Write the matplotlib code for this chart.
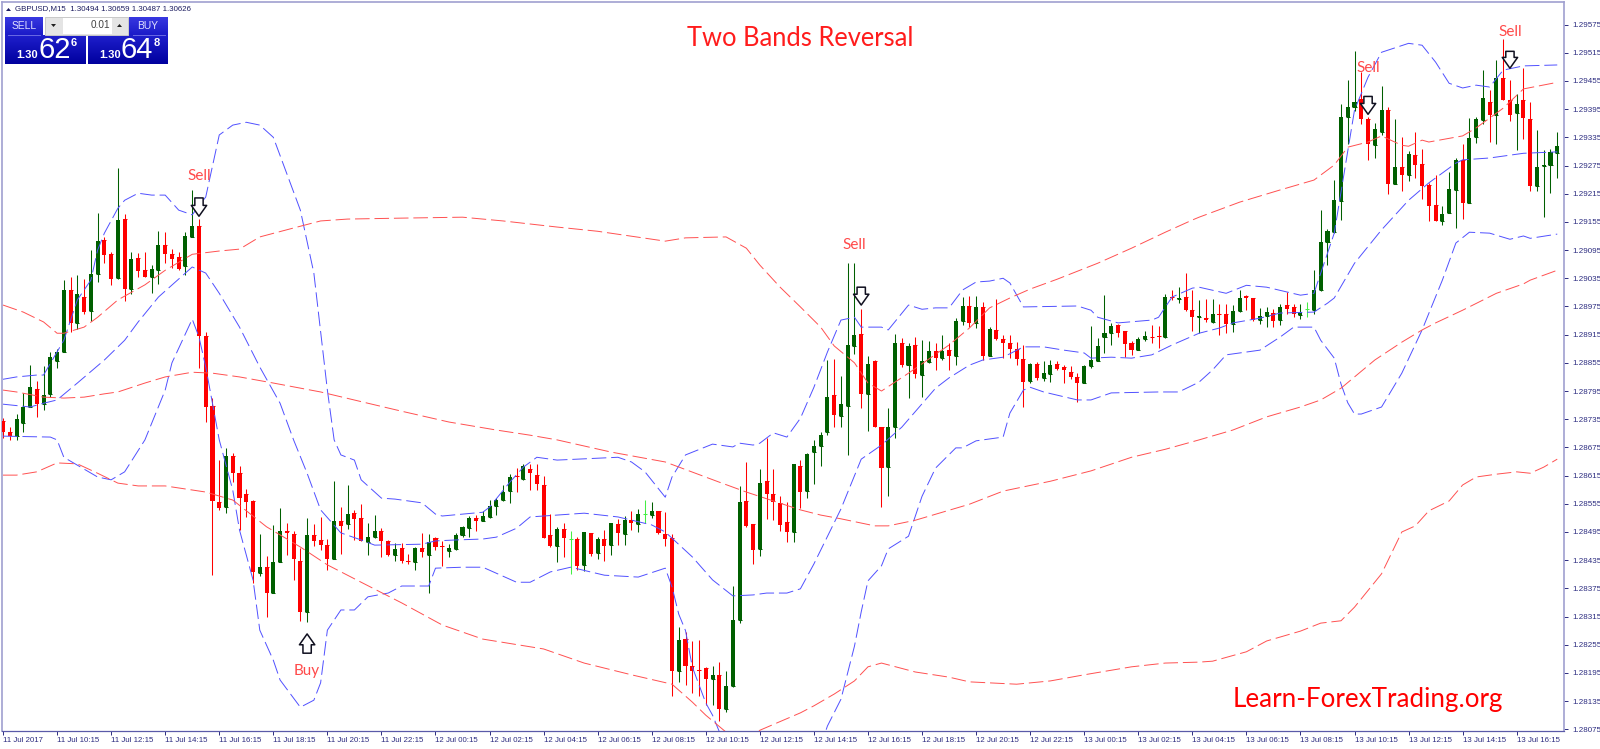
import numpy as np
import matplotlib
matplotlib.use("Agg")
import matplotlib.pyplot as plt
from matplotlib.patches import Rectangle, Polygon

plt.rcParams["font.family"] = ["Liberation Sans", "DejaVu Sans"]

# prices are kept as points above 1.28000 (1 point = 0.00001)
BASE = 1.28

open_pts = [
    732, 708, 699, 728, 760, 800, 767, 788, 859, 879,
    1009, 940, 996, 965, 1045, 1116, 1086, 1035, 1161, 1013,
    1079, 1052, 1038, 1052, 1105, 1086, 1080, 1061, 1123, 1147,
    913, 763, 558, 549, 657, 620, 575, 560, 407, 421,
    366, 431, 497, 491, 434, 325, 488, 477, 468, 438,
    519, 512, 535, 524, 474, 485, 497, 475, 446, 461,
    434, 432, 461, 447, 482, 465, 455, 459, 489, 503,
    524, 519, 527, 550, 562, 582, 614, 607, 629, 617,
    595, 488, 466, 502, 480, 481, 425, 492, 450, 480,
    467, 512, 490, 521, 512, 533, 531, 540, 491, 483,
    200, 267, 210, 201, 205, 182, 190, 119, 168, 308,
    560, 512, 458, 604, 576, 556, 517, 494, 636, 582,
    666, 678, 707, 786, 742, 764, 891, 916, 789, 858,
    718, 634, 719, 897, 850, 894, 829, 857, 880, 865,
    883, 870, 945, 976, 939, 973, 870, 924, 905, 897,
    884, 863, 817, 853, 822, 832, 853, 847, 836, 825,
    812, 849, 858, 909, 919, 936, 923, 897, 882, 905,
    910, 912, 909, 996, 990, 995, 968, 952, 950, 942,
    960, 959, 938, 965, 997, 994, 947, 954, 962, 947,
    978, 974, 957, 969, 967, 1010, 1112, 1134, 1200, 1379,
    1399, 1416, 1374, 1319, 1346, 1393, 1236, 1271, 1255, 1297,
    1278, 1233, 1190, 1157, 1173, 1223, 1287, 1195, 1335, 1372,
    1411, 1382, 1462, 1414, 1386, 1414, 1374, 1231, 1274, 1276, 1302,
]
close_pts = [
    708, 699, 735, 760, 804, 767, 787, 867, 879, 1009,
    940, 1001, 964, 1045, 1114, 1084, 1033, 1159, 1013, 1077,
    1050, 1038, 1054, 1105, 1087, 1077, 1055, 1125, 1147, 913,
    762, 560, 546, 657, 621, 568, 558, 410, 421, 366,
    432, 497, 492, 438, 324, 488, 476, 468, 438, 519,
    508, 534, 523, 476, 484, 497, 476, 447, 459, 434,
    432, 461, 453, 474, 464, 462, 461, 489, 505, 524,
    519, 529, 551, 562, 580, 612, 611, 635, 620, 597,
    483, 466, 502, 483, 480, 422, 495, 449, 480, 466,
    514, 492, 521, 514, 533, 533, 540, 492, 481, 200,
    266, 209, 200, 200, 182, 190, 119, 168, 308, 558,
    508, 457, 600, 575, 559, 510, 495, 640, 581, 660,
    679, 702, 783, 744, 767, 892, 914, 789, 853, 719,
    631, 719, 897, 850, 890, 832, 859, 880, 866, 880,
    870, 944, 976, 939, 973, 870, 926, 905, 897, 884,
    863, 814, 853, 822, 834, 851, 842, 839, 824, 812,
    849, 860, 890, 919, 934, 918, 895, 882, 906, 912,
    909, 911, 996, 992, 993, 968, 952, 954, 946, 960,
    957, 937, 965, 994, 994, 947, 954, 964, 944, 974,
    969, 960, 964, 969, 1010, 1113, 1136, 1202, 1379, 1399,
    1411, 1374, 1321, 1352, 1393, 1236, 1271, 1255, 1299, 1277,
    1232, 1189, 1156, 1172, 1224, 1287, 1195, 1333, 1374, 1419,
    1382, 1461, 1414, 1382, 1406, 1376, 1231, 1272, 1276, 1303, 1316,
]
high_pts = [
    737, 718, 746, 790, 850, 816, 849, 877, 884, 1031,
    1037, 1043, 1033, 1096, 1173, 1123, 1090, 1269, 1172, 1091,
    1088, 1091, 1063, 1136, 1133, 1097, 1091, 1134, 1223, 1161,
    921, 780, 648, 673, 664, 636, 587, 563, 491, 443,
    510, 546, 514, 497, 461, 524, 512, 526, 480, 604,
    549, 596, 542, 555, 514, 531, 503, 478, 471, 471,
    449, 463, 492, 491, 484, 475, 470, 492, 507, 528,
    531, 540, 563, 567, 595, 618, 631, 640, 640, 640,
    614, 533, 505, 514, 497, 485, 495, 492, 484, 500,
    514, 522, 529, 540, 544, 563, 558, 540, 537, 490,
    293, 283, 262, 266, 207, 209, 218, 200, 380, 593,
    643, 512, 629, 696, 629, 572, 558, 640, 648, 663,
    691, 707, 860, 863, 826, 1067, 1067, 970, 870, 861,
    718, 758, 916, 907, 897, 909, 904, 902, 897, 914,
    897, 950, 995, 997, 997, 985, 931, 990, 914, 914,
    900, 893, 854, 856, 858, 860, 858, 851, 848, 833,
    851, 934, 907, 1000, 939, 938, 923, 902, 909, 923,
    936, 934, 1002, 1009, 1016, 1046, 1010, 989, 991, 991,
    980, 981, 978, 1011, 999, 994, 971, 973, 969, 981,
    1006, 980, 981, 985, 1053, 1180, 1139, 1244, 1406, 1457,
    1519, 1473, 1379, 1365, 1444, 1400, 1373, 1336, 1306, 1346,
    1311, 1238, 1255, 1189, 1262, 1292, 1321, 1377, 1379, 1479,
    1436, 1499, 1545, 1458, 1428, 1482, 1411, 1350, 1308, 1311, 1347,
]
low_pts = [
    696, 691, 691, 708, 760, 740, 755, 783, 845, 879,
    921, 928, 960, 943, 1026, 1068, 1021, 1033, 987, 1001,
    1038, 1037, 1004, 1023, 1068, 1057, 1052, 1043, 1123, 843,
    730, 404, 542, 536, 602, 500, 527, 386, 402, 315,
    366, 431, 446, 393, 306, 303, 466, 456, 414, 438,
    449, 501, 478, 476, 446, 483, 441, 443, 434, 429,
    427, 414, 441, 365, 456, 422, 441, 457, 485, 485,
    498, 519, 524, 531, 560, 556, 581, 606, 585, 585,
    483, 463, 431, 441, 405, 414, 413, 443, 437, 434,
    445, 468, 467, 500, 494, 515, 524, 490, 466, 145,
    175, 170, 152, 145, 127, 127, 92, 111, 165, 302,
    505, 426, 444, 522, 521, 498, 474, 474, 546, 567,
    597, 636, 702, 718, 718, 659, 873, 758, 709, 719,
    549, 572, 695, 847, 780, 822, 782, 854, 840, 860,
    840, 851, 936, 931, 929, 861, 870, 904, 865, 865,
    851, 762, 812, 819, 817, 814, 840, 812, 821, 771,
    812, 844, 858, 875, 893, 909, 867, 872, 882, 902,
    897, 887, 907, 989, 982, 966, 922, 919, 942, 939,
    914, 918, 921, 964, 967, 945, 937, 932, 932, 935,
    959, 952, 949, 952, 959, 1007, 1063, 1132, 1160, 1321,
    1392, 1363, 1287, 1290, 1340, 1214, 1236, 1221, 1241, 1249,
    1203, 1156, 1156, 1148, 1173, 1142, 1162, 1195, 1322, 1363,
    1324, 1321, 1414, 1370, 1309, 1331, 1221, 1221, 1166, 1217, 1249,
]

blue_upper_bars = [0, 2, 5, 6, 9, 11, 13, 14, 15, 17, 18, 20, 22, 24, 26, 28, 30, 32, 34, 36, 38, 40,
                   44, 46, 48, 49, 50, 52, 53, 56, 58, 62, 64, 65, 71, 72, 75, 77, 79, 82, 91, 93, 95, 98, 99,
                   101, 105, 108, 109, 111, 112, 114, 116, 118, 120, 122, 124, 126, 127, 130, 131, 134, 136,
                   138, 140, 142, 144, 146, 148, 149, 151, 159, 161, 162, 165, 170, 171, 173, 176, 177, 181,
                   184, 187, 192, 194, 197, 200, 202, 204, 208, 210, 212, 214, 216, 218, 220, 222, 225, 230]
blue_upper_pts = [820, 825, 829, 829, 903, 989, 1031, 1095, 1131, 1184, 1201, 1216, 1212, 1212, 1180, 1170, 1208,
                  1340, 1361, 1367, 1361, 1335, 1180, 1046, 797, 691, 659, 648, 606, 567, 565, 557, 533, 529,
                  537, 548, 601, 633, 654, 648, 654, 644, 623, 569, 612, 659, 682, 676, 684, 680, 684, 706,
                  697, 737, 803, 878, 946, 952, 931, 931, 925, 978, 969, 972, 972, 1010, 1027, 1029, 1035,
                  1025, 974, 976, 967, 952, 940, 946, 952, 995, 1014, 1016, 1003, 1020, 1016, 999, 1003, 1131,
                  1393, 1463, 1516, 1535, 1531, 1495, 1450, 1440, 1446, 1442, 1478, 1487, 1489]

blue_mid_bars = [0, 4, 6, 8, 11, 15, 18, 20, 23, 28, 30, 32, 35, 38, 41, 43, 45, 47, 50, 53, 55, 62, 64, 67, 71,
                 73, 76, 78, 84, 86, 91, 96, 98, 102, 105, 108, 111, 113, 116, 118, 120, 124, 127, 130, 133,
                 138, 140, 143, 145, 148, 151, 154, 157, 160, 161, 164, 167, 170, 173, 177, 180, 182, 186, 189,
                 194, 196, 197, 200, 204, 208, 211, 215, 216, 220, 225, 230]
blue_mid_pts = [767, 761, 769, 776, 812, 861, 903, 942, 995, 1059, 1046, 1003, 931, 846, 769, 691, 620, 542, 493,
                478, 467, 469, 476, 478, 480, 484, 503, 527, 533, 535, 527, 510, 495, 442, 393, 359, 361, 365,
                365, 374, 427, 544, 650, 680, 718, 801, 823, 850, 861, 867, 889, 889, 882, 876, 865, 867, 865,
                872, 893, 918, 929, 940, 950, 961, 963, 982, 993, 1067, 1138, 1201, 1238, 1280, 1287, 1291,
                1301, 1304]

blue_lower_bars = [0, 7, 8, 9, 14, 16, 18, 21, 24, 25, 28, 29, 30, 32, 34, 35, 37, 38, 40, 41, 44, 46, 47, 48, 50,
                   52, 54, 57, 59, 63, 64, 68, 71, 76, 78, 81, 84, 89, 94, 98, 99, 100, 101, 102, 104, 105, 106,
                   108, 121, 122, 124, 126, 127, 128, 130, 131, 134, 136, 138, 141, 142, 144, 148, 149, 151, 152,
                   154, 159, 161, 164, 171, 174, 177, 179, 181, 183, 186, 189, 191, 194, 195, 197, 198, 199, 200,
                   201, 204, 207, 210, 213, 215, 217, 220, 223, 225, 226, 230]
blue_lower_pts = [699, 697, 691, 654, 612, 606, 623, 691, 797, 855, 948, 910, 846, 691, 584, 499, 393, 286, 222,
                  180, 122, 137, 174, 286, 329, 329, 357, 365, 380, 380, 418, 420, 420, 388, 388, 410, 420, 403,
                  399, 418, 378, 320, 285, 208, 131, 105, 70, 40, 40, 82, 139, 252, 325, 391, 423, 459, 486, 571,
                  631, 674, 674, 689, 697, 748, 797, 803, 793, 776, 776, 791, 793, 793, 814, 840, 872, 876, 882,
                  910, 931, 931, 903, 865, 810, 770, 746, 746, 761, 833, 925, 1031, 1110, 1133, 1131, 1118, 1125,
                  1120, 1129]

red_upper_bars = [0, 3, 6, 8, 9, 12, 14, 17, 21, 24, 28, 32, 35, 38, 43, 47, 51, 59, 68, 74, 82, 88, 98, 101, 107,
                  110, 112, 115, 118, 121, 123, 126, 128, 130, 132, 134, 140, 143, 146, 149, 152, 156, 162, 167,
                  172, 176, 177, 183, 189, 194, 197, 199, 202, 204, 207, 208, 210, 211, 216, 218, 222, 225, 230]
red_upper_pts = [978, 963, 942, 918, 918, 931, 952, 989, 1021, 1052, 1086, 1093, 1097, 1123, 1142, 1157, 1161, 1163,
                 1165, 1157, 1144, 1135, 1114, 1121, 1123, 1099, 1063, 1016, 974, 931, 891, 855, 812, 795, 814, 833,
                 893, 929, 972, 993, 1012, 1033, 1067, 1099, 1133, 1159, 1165, 1197, 1223, 1244, 1276, 1314, 1325,
                 1338, 1318, 1316, 1329, 1325, 1338, 1355, 1397, 1438, 1452]

red_mid_bars = [0, 2, 6, 9, 12, 15, 17, 21, 24, 28, 31, 35, 40, 47, 54, 59, 66, 73, 78, 82, 90, 98, 106, 110, 118,
                121, 124, 129, 131, 135, 143, 148, 155, 161, 167, 172, 177, 182, 187, 192, 195, 198, 200, 203, 207,
                210, 212, 216, 221, 225, 226, 230]
red_mid_pts = [797, 793, 782, 780, 782, 789, 793, 812, 825, 835, 833, 825, 812, 793, 769, 752, 729, 712, 701, 691,
               665, 644, 601, 580, 542, 531, 523, 508, 508, 520, 554, 582, 603, 625, 654, 671, 691, 712, 740, 761,
               776, 801, 825, 861, 899, 925, 940, 967, 1003, 1023, 1031, 1052]

red_lower_bars = [0, 2, 5, 8, 11, 14, 17, 20, 24, 30, 34, 39, 44, 48, 53, 59, 65, 71, 80, 86, 93, 99, 102, 104, 107,
                  110, 112, 118, 120, 123, 126, 128, 130, 135, 140, 143, 150, 155, 160, 167, 172, 177, 179, 184, 187,
                  192, 195, 198, 200, 204, 207, 209, 211, 214, 216, 218, 221, 224, 226, 228, 230]
red_lower_pts = [616, 616, 623, 642, 640, 620, 599, 593, 593, 580, 563, 506, 463, 425, 388, 344, 297, 267, 246, 216,
                 191, 171, 133, 105, 69, 40, 73, 110, 125, 150, 178, 208, 216, 197, 186, 176, 171, 178, 191, 208, 216,
                 218, 220, 240, 263, 284, 301, 306, 335, 406, 495, 508, 540, 561, 595, 612, 618, 623, 620, 633, 650]

# signal arrows and where their captions sit
sell_bars = [29, 127, 202, 223]
sell_tail_pts = [1206, 1016, 1422, 1518]
sell_tip_pts = [1167, 978, 1384, 1482]
buy_bars = [45]
buy_tail_pts = [237]
buy_tip_pts = [278]
sell_label_bars = [29, 126, 202, 223]
sell_label_pts = [1252, 1106, 1482, 1559]
buy_label_bars = [45]
buy_label_pts = [199]

y_ticks = [1.28075, 1.28135, 1.28195, 1.28255, 1.28315, 1.28375, 1.28435, 1.28495, 1.28555, 1.28615,
           1.28675, 1.28735, 1.28795, 1.28855, 1.28915, 1.28975, 1.29035, 1.29095, 1.29155, 1.29215,
           1.29275, 1.29335, 1.29395, 1.29455, 1.29515, 1.29575]
x_labels = ["11 Jul 2017", "11 Jul 10:15", "11 Jul 12:15", "11 Jul 14:15", "11 Jul 16:15", "11 Jul 18:15",
            "11 Jul 20:15", "11 Jul 22:15", "12 Jul 00:15", "12 Jul 02:15", "12 Jul 04:15", "12 Jul 06:15",
            "12 Jul 08:15", "12 Jul 10:15", "12 Jul 12:15", "12 Jul 14:15", "12 Jul 16:15", "12 Jul 18:15",
            "12 Jul 20:15", "12 Jul 22:15", "13 Jul 00:15", "13 Jul 02:15", "13 Jul 04:15", "13 Jul 06:15",
            "13 Jul 08:15", "13 Jul 10:15", "13 Jul 12:15", "13 Jul 14:15", "13 Jul 16:15"]
x_tick_bars = list(range(0, 225, 8))

GREEN = "#005f00"
RED = "#ff0000"
LIME = "#44ee44"
TICK = "#2c2c80"
BORDER = "#a0a0d0"


def price(pts):
    return BASE + np.asarray(pts, dtype=float) / 1e5


fig = plt.figure(figsize=(16, 7.49), dpi=100)
ax = fig.add_axes([2 / 1600, 1 - 731 / 749, (1564 - 2) / 1600, (731 - 2) / 749])

o, h, l, c = price(open_pts), price(high_pts), price(low_pts), price(close_pts)
bars = np.arange(len(o))
colors = [LIME if a == b else (GREEN if b > a else RED) for a, b in zip(open_pts, close_pts)]

ax.vlines(bars, l, h, colors=colors, linewidth=0.75, zorder=2)
ax.bar(bars, np.abs(c - o), bottom=np.minimum(o, c), width=0.6, color=colors, linewidth=0, zorder=3)
ax.hlines(o, bars - 0.3, bars + 0.3, colors=colors, linewidth=0.75, zorder=3)

for xs, ys, col in [
    (blue_upper_bars, blue_upper_pts, "#5050ff"),
    (blue_mid_bars, blue_mid_pts, "#5050ff"),
    (blue_lower_bars, blue_lower_pts, "#5050ff"),
    (red_upper_bars, red_upper_pts, "#ff5050"),
    (red_mid_bars, red_mid_pts, "#ff5050"),
    (red_lower_bars, red_lower_pts, "#ff5050"),
]:
    ax.plot(xs, price(ys), color=col, linewidth=0.7, dashes=(15, 5), zorder=4)

arrow = dict(arrowstyle="simple,head_length=0.6,head_width=0.85,tail_width=0.46",
             facecolor="white", edgecolor="#101020", linewidth=1.1, mutation_scale=13,
             shrinkA=0, shrinkB=0)
for b, tail, tip in zip(sell_bars + buy_bars, sell_tail_pts + buy_tail_pts, sell_tip_pts + buy_tip_pts):
    ax.annotate("", xy=(b, price(tip)), xytext=(b, price(tail)), arrowprops=arrow, zorder=6)

for b, p in zip(sell_label_bars, sell_label_pts):
    ax.text(b, price(p), "Sell", color="#ff4a4a", fontsize=11, family="Lato", ha="center", va="center", zorder=6)
for b, p in zip(buy_label_bars, buy_label_pts):
    ax.text(b, price(p), "Buy", color="#ff4a4a", fontsize=11, family="Lato", ha="center", va="center", zorder=6)

ax.set_xlim(-0.15, 231.0)
ax.set_ylim(price(71.4), price(1623))
ax.yaxis.tick_right()
ax.set_yticks(y_ticks)
ax.set_yticklabels([f"{t:.5f}" for t in y_ticks], fontsize=5.8, color=TICK)
ax.set_xticks(x_tick_bars)
ax.set_xticklabels(x_labels, fontsize=5.7, color=TICK, ha="left")
ax.tick_params(axis="y", length=3, width=0.7, color=TICK, pad=3)
ax.tick_params(axis="x", length=3, width=0.7, color=TICK, pad=1.5)
for side in ["left", "right", "top"]:
    ax.spines[side].set_color(BORDER)
    ax.spines[side].set_linewidth(1.2)
ax.spines["bottom"].set_color("#5a5aa8")
ax.spines["bottom"].set_linewidth(0.9)

# overlay in image pixels for the heading, watermark and the one-click panel
ui = fig.add_axes([0, 0, 1, 1], facecolor="none")
ui.set_xlim(0, 1600)
ui.set_ylim(749, 0)
ui.axis("off")

ui.text(800, 38, "Two Bands Reversal", color="#ff1c1c", fontsize=18.4, family="Lato", ha="center", va="center")
ui.text(1368, 699, "Learn-ForexTrading.org", color="#ff0000", fontsize=18.7, family="Lato", ha="center", va="center")

ui.text(15, 9, "GBPUSD,M15  1.30494 1.30659 1.30487 1.30626", color="#1c1c60", fontsize=5.7, va="center")
ui.add_patch(Polygon([(6, 11), (11, 11), (8.5, 8)], color="#1c1c60", lw=0))


def grad(x0, x1, y0, y1, top, bottom):
    vals = np.linspace(0, 1, 32)[:, None, None]
    img = (1 - vals) * np.array(top)[None, None, :] + vals * np.array(bottom)[None, None, :]
    ui.imshow(img, extent=(x0, x1, y1, y0), aspect="auto", zorder=2, interpolation="bilinear")


grad(5, 43, 17, 36, (0.22, 0.22, 0.88), (0.10, 0.10, 0.78))
grad(129, 168, 17, 36, (0.22, 0.22, 0.88), (0.10, 0.10, 0.78))
grad(5, 86, 35, 64, (0.12, 0.12, 0.80), (0.0, 0.0, 0.62))
grad(88, 168, 35, 64, (0.12, 0.12, 0.80), (0.0, 0.0, 0.62))
ui.set_xlim(0, 1600)
ui.set_ylim(749, 0)
ui.plot([8, 40], [34.5, 34.5], color="#6a6ae4", lw=0.7, zorder=3)
ui.plot([133, 165], [34.5, 34.5], color="#6a6ae4", lw=0.7, zorder=3)

ui.add_patch(Rectangle((45, 17), 83, 18, facecolor="#e4e4e4", edgecolor="#c8c8c8", lw=0.7, zorder=3))
ui.add_patch(Rectangle((63, 18), 49, 16, facecolor="white", edgecolor="none", zorder=3))
ui.add_patch(Polygon([(51, 24), (56, 24), (53.5, 27)], color="#202020", lw=0, zorder=4))
ui.add_patch(Polygon([(117, 27), (122, 27), (119.5, 24)], color="#202020", lw=0, zorder=4))
ui.text(110, 25.5, "0.01", color="#404040", fontsize=7.2, ha="right", va="center", zorder=4)

ui.text(24, 26, "SELL", color="#e0e0ff", fontsize=7.4, ha="center", va="center", zorder=4)
ui.text(148, 26, "BUY", color="#e0e0ff", fontsize=7.4, ha="center", va="center", zorder=4)
for x_big, x_small, x_sup, big, sup in [(55, 27, 74, "62", "6"), (137, 110, 157, "64", "8")]:
    ui.text(x_small, 55, "1.30", color="white", fontsize=8, fontweight="bold", ha="center", va="center", zorder=4)
    ui.text(x_big, 50, big, color="white", fontsize=21, ha="center", va="center", zorder=4)
    ui.text(x_sup, 43, sup, color="white", fontsize=8, fontweight="bold", ha="center", va="center", zorder=4)

fig.savefig("out.png", dpi=100, facecolor="white")
